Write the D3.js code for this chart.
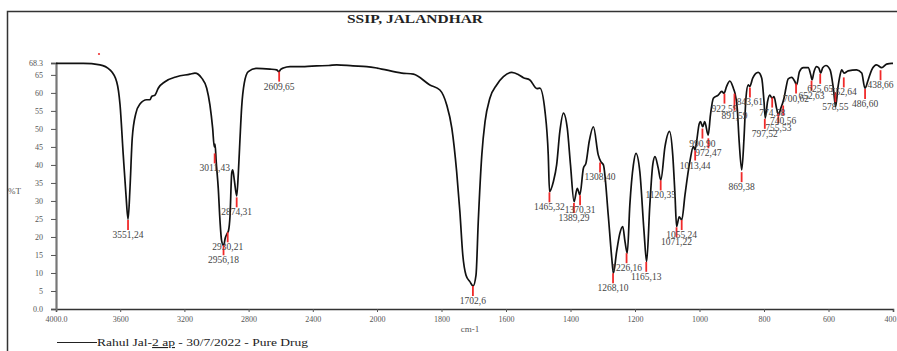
<!DOCTYPE html>
<html>
<head>
<meta charset="utf-8">
<script src="https://cdn.jsdelivr.net/npm/d3@7"></script>
<style>
  html, body { margin: 0; padding: 0; background: #fff; }
  svg { display: block; font-family: "Liberation Serif", "Times New Roman", serif; }
  .axis text { font-size: 8px; font-family: "Liberation Serif", serif; }
</style>
</head>
<body>
<svg id="chart" width="897" height="351"></svg>
<script>
// spectrum (cm-1, %T)
const wavenumbers = [
  4000, 3830, 3726, 3664, 3622, 3601, 3581, 3564, 3551, 3539, 3525, 3502, 3477, 3435, 3414, 3404,
  3383, 3363, 3321, 3248, 3165, 3134, 3092, 3061, 3041, 3024, 3014, 3009, 3002, 2989, 2978, 2968,
  2956, 2945, 2933, 2925, 2916, 2905, 2899, 2889, 2874, 2864, 2854, 2843, 2827, 2802, 2750, 2667,
  2625, 2612, 2600, 2584, 2542, 2450, 2376, 2300, 2251, 2150, 2064, 2000, 1923, 1887, 1836, 1805,
  1784, 1768, 1753, 1743, 1734, 1724, 1712, 1702, 1693, 1686, 1675, 1665, 1650, 1629, 1608, 1582,
  1560, 1546, 1526, 1504, 1495, 1479, 1469, 1465, 1453, 1443, 1433, 1422, 1410, 1400, 1389, 1379,
  1371, 1360, 1352, 1342, 1329, 1314, 1306, 1298, 1283, 1272, 1267, 1257, 1247, 1238, 1231, 1224,
  1216, 1205, 1197, 1185, 1172, 1164, 1154, 1145, 1138, 1128, 1120, 1107, 1093, 1083, 1076, 1071,
  1063, 1055, 1045, 1030, 1019, 1014, 1009, 1001, 997, 990, 984, 973, 966, 957, 942, 931,
  924, 916, 906, 895, 890, 883, 877, 869, 862, 856, 849, 844, 835, 818, 807, 800,
  796, 789, 782, 775, 769, 761, 755, 748, 744, 738, 732, 725, 714, 704, 699, 690,
  678, 663, 655, 651, 645, 637, 630, 624, 618, 608, 595, 585, 578, 571, 564, 559,
  552, 539, 513, 497, 487, 477, 466, 451, 435, 420, 404, 400
];
const transmittance = [
  68.2, 68.2, 67.8, 66.4, 63.1, 56.7, 42.8, 31.7, 24.9, 33.6, 47.4, 54.4, 56.9, 58.1, 58.1, 59.0,
  59.4, 61.3, 63.1, 64.5, 65.2, 65.5, 64.1, 61.3, 56.7, 50.2, 45.0, 45.8, 41.0, 33.5, 24.3, 18.9,
  17.6, 19.8, 21.0, 21.8, 25.6, 37.8, 38.6, 35.8, 31.4, 37.7, 46.9, 56.2, 62.7, 65.9, 66.8, 66.6,
  66.4, 65.9, 66.5, 66.9, 67.3, 67.3, 67.5, 67.6, 67.8, 67.5, 67.3, 66.9, 65.5, 65.2, 62.2, 60.8,
  56.7, 50.2, 38.1, 27.0, 15.0, 9.4, 7.6, 6.4, 9.4, 24.3, 42.8, 52.0, 58.5, 62.2, 64.5, 65.7,
  65.0, 64.2, 63.6, 61.2, 61.3, 54.8, 42.8, 32.6, 35.4, 40.0, 49.3, 54.4, 50.2, 40.0, 29.8, 33.5,
  31.7, 39.1, 40.5, 46.5, 50.6, 42.8, 40.9, 40.0, 26.1, 14.1, 9.9, 15.9, 21.0, 22.9, 18.7, 15.5,
  28.9, 40.0, 43.2, 38.1, 21.5, 13.1, 28.9, 40.0, 42.3, 39.1, 35.8, 45.1, 49.3, 42.8, 31.7, 22.9,
  25.6, 24.7, 31.7, 40.9, 45.1, 44.2, 46.5, 51.4, 52.0, 50.6, 52.0, 48.3, 53.9, 58.5, 59.4, 60.4,
  59.9, 61.8, 63.3, 61.3, 59.9, 55.7, 46.5, 38.6, 47.4, 58.5, 62.2, 61.8, 64.1, 65.7, 64.1, 57.6,
  53.0, 57.6, 59.4, 58.5, 59.0, 55.7, 53.9, 55.7, 56.7, 58.5, 61.3, 63.9, 64.3, 63.1, 62.2, 65.9,
  67.0, 67.0, 65.0, 63.6, 65.9, 67.3, 66.9, 65.5, 67.0, 67.6, 66.4, 61.3, 56.2, 61.3, 65.0, 66.4,
  65.5, 66.1, 66.4, 65.5, 61.3, 63.6, 66.4, 67.8, 67.0, 68.0, 68.2, 68.2
];

// picked peaks: wavenumber label and the %T where the red marker starts
const peakLabels = [
  "3551,24", "3011,43", "2956,18", "2930,21", "2874,31", "2609,65", "1702,6", "1465,32",
  "1389,29", "1370,31", "1308,40", "1268,10", "1226,16", "1165,13", "1120,35", "1071,22",
  "1055,24", "1013,44", "990,90", "972,47", "922,59", "891,59", "869,38", "843,61",
  "797,52", "774,58", "755,53", "740,56", "700,62", "652,63", "625,65", "578,55",
  "552,64", "486,60", "438,66"
];
const peakT = [
  24.7, 43.2, 17.7, 21.3, 31.0, 65.9, 6.4, 32.4,
  29.4, 31.6, 40.7, 9.9, 15.5, 13.1, 35.7, 22.7,
  24.7, 44.0, 50.1, 47.4, 59.8, 59.8, 38.0, 61.5,
  52.8, 58.7, 54.3, 56.5, 62.6, 63.4, 65.3, 60.2,
  64.3, 61.1, 66.3
];

const xTicks = [4000, 3600, 3200, 2800, 2400, 2000, 1800, 1600, 1400, 1200, 1000, 800, 600, 400];
const yTicks = [0, 5, 10, 15, 20, 25, 30, 35, 40, 45, 50, 55, 60, 65, 68.3];

const title = "SSIP, JALANDHAR";
const seriesName = ["Rahul Jal-", "2 ap", " - 30/7/2022 - Pure Drug"];

const svg = d3.select('#chart');

// frame lines (left and top)
svg.append('path')
  .attr('d', 'M7.5,351 V11.5 H897')
  .attr('fill', 'none')
  .attr('stroke', '#333')
  .attr('stroke-width', 1.5);

svg.append('text')
  .attr('x', 347).attr('y', 23)
  .attr('font-size', 13).attr('font-weight', 'bold')
  .attr('fill', '#222')
  .attr('textLength', 136)
  .attr('lengthAdjust', 'spacingAndGlyphs')
  .text(title);

// x scale changes resolution at 2000 cm-1
const x = d3.scaleLinear().domain([4000, 2000, 400]).range([56, 377, 893]);
const y = d3.scaleLinear().domain([0, 68.3]).range([309, 63]);

const xAxis = d3.axisBottom(x)
  .tickValues(xTicks)
  .tickSize(3)
  .tickPadding(4)
  .tickFormat(d => (d === 4000 || d === 400) ? d.toFixed(1) : d);

const yAxis = d3.axisLeft(y)
  .tickValues(yTicks)
  .tickSize(5)
  .tickPadding(8)
  .tickFormat(d => (d === 0 || d === 68.3) ? d.toFixed(1) : d);

const gx = svg.append('g')
  .attr('class', 'axis')
  .attr('color', '#555')
  .attr('transform', `translate(0, ${y(0)})`)
  .call(xAxis);
gx.select('.domain').attr('stroke', '#333').attr('stroke-width', 1.5);

const gy = svg.append('g')
  .attr('class', 'axis')
  .attr('color', '#555')
  .attr('transform', `translate(${x(4000)}, 0)`)
  .call(yAxis);
gy.select('.domain').attr('stroke', '#777').attr('stroke-width', 2.2);

svg.append('text')
  .attr('x', 8).attr('y', 194)
  .attr('font-size', 9).attr('fill', '#555')
  .text('%T');

svg.append('text')
  .attr('x', 470).attr('y', 332)
  .attr('text-anchor', 'middle')
  .attr('font-size', 9).attr('fill', '#555')
  .text('cm-1');

// stray red dot from the original export
svg.append('circle')
  .attr('cx', 99).attr('cy', 54).attr('r', 1.1)
  .attr('fill', '#e33');

const points = wavenumbers.map((w, i) => [w, transmittance[i]]);
const line = d3.line()
  .x(d => x(d[0]))
  .y(d => y(d[1]))
  .curve(d3.curveMonotoneX);

svg.append('path')
  .datum(points)
  .attr('d', line)
  .attr('fill', 'none')
  .attr('stroke', '#111')
  .attr('stroke-width', 1.7)
  .attr('stroke-linejoin', 'round');

// labels sit under their marker; only a label on the very same row gets pushed down
const placed = [];
const peaks = peakLabels.map((lab, i) => {
  const px = x(+lab.replace(',', '.'));
  const top = y(peakT[i]);
  const w = lab.length * 4.3;
  let base = top + 18;
  placed.forEach(p => {
    if (Math.abs(p.x - px) < (p.w + w) / 2 && Math.abs(p.base - base) < 2) base = p.base + 7;
  });
  placed.push({x: px, w: w, base: base});
  return {label: lab, x: px, top: top, bottom: base - 8, base: base};
});

const peakG = svg.append('g');
peakG.selectAll('line')
  .data(peaks)
  .join('line')
  .attr('x1', d => d.x).attr('x2', d => d.x)
  .attr('y1', d => d.top)
  .attr('y2', d => d.bottom)
  .attr('stroke', '#f02a2a')
  .attr('stroke-width', 1.8);

peakG.selectAll('text')
  .data(peaks)
  .join('text')
  .attr('x', d => d.x)
  .attr('y', d => d.base)
  .attr('text-anchor', 'middle')
  .attr('font-size', 9.5)
  .attr('fill', '#444')
  .text(d => d.label);

// legend
svg.append('line')
  .attr('x1', 57).attr('x2', 97)
  .attr('y1', 342.5).attr('y2', 342.5)
  .attr('stroke', '#222').attr('stroke-width', 1.2);

const legendText = svg.append('text')
  .attr('x', 97).attr('y', 346)
  .attr('font-size', 11).attr('fill', '#222')
  .attr('textLength', 211)
  .attr('lengthAdjust', 'spacingAndGlyphs');
legendText.selectAll('tspan')
  .data(seriesName)
  .join('tspan')
  .style('text-decoration', (d, i) => i === 1 ? 'underline wavy #3355dd' : null)
  .text(d => d);
</script>
</body>
</html>
